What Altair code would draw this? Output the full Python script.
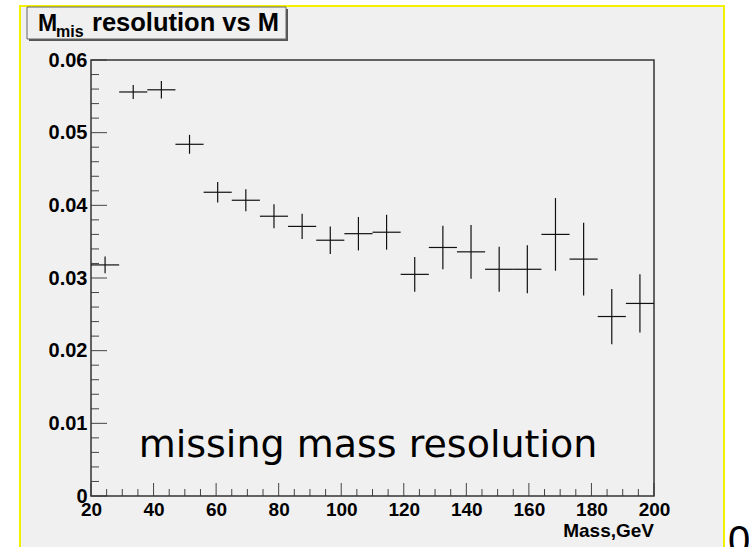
import altair as alt
import pandas as pd

# ---- data ----
bin_edges = [20, 29, 38, 47, 56, 65, 74, 83, 92, 101, 110,
             119, 128, 137, 146, 155, 164, 173, 182, 191, 200]
bin_centers = [24.5, 33.5, 42.5, 51.5, 60.5, 69.5, 78.5, 87.5, 96.5, 105.5,
               114.5, 123.5, 132.5, 141.5, 150.5, 159.5, 168.5, 177.5, 186.5, 195.5]
resolution = [0.0318, 0.0556, 0.0559, 0.0484, 0.0418, 0.0407, 0.0385, 0.0371, 0.0352, 0.0361,
              0.0363, 0.0305, 0.0342, 0.0336, 0.0312, 0.0312, 0.0360, 0.0326, 0.0247, 0.0265]
errors = [0.00115, 0.00096, 0.0012, 0.0013, 0.0014, 0.0015, 0.00165, 0.00175, 0.0019, 0.0023,
          0.0024, 0.0024, 0.0030, 0.0037, 0.0031, 0.0033, 0.0050, 0.0050, 0.0038, 0.0040]

x_major = [20, 40, 60, 80, 100, 120, 140, 160, 180, 200]
x_minor = [v for v in range(20, 201, 5) if v % 20 != 0]
y_major = [0, 0.01, 0.02, 0.03, 0.04, 0.05, 0.06]
y_minor = [round(i * 0.002, 3) for i in range(31) if i % 5 != 0]

title_main = "resolution vs M"
title_M = "M"
title_sub = "mis"
x_title = "Mass,GeV"
annotation = "missing mass resolution"
corner_text = "0"

W, H = 563, 436

df = pd.DataFrame({
    "lo": bin_edges[:-1],
    "hi": bin_edges[1:],
    "c": bin_centers,
    "v": resolution,
    "e": errors,
})
df["v_lo"] = df["v"] - df["e"]
df["v_hi"] = df["v"] + df["e"]

one = pd.DataFrame({"k": [0]})

xs = alt.Scale(domain=[20, 200], nice=False, zero=False)
ys = alt.Scale(domain=[0, 0.06], nice=False, zero=False)

FONT = "Liberation Sans"

xaxis = alt.Axis(values=x_major, format="d", ticks=False, domain=False, grid=False,
                 labelFont=FONT, labelFontWeight="bold", labelFontSize=19,
                 labelColor="black", labelPadding=4, labelFlush=False,
                 labelOverlap=False, title=None, zindex=2)
yaxis = alt.Axis(values=y_major,
                 labelExpr="datum.value == 0 ? '0' : format(datum.value, '.2f')",
                 ticks=False, domain=False, grid=False,
                 labelFont=FONT, labelFontWeight="bold", labelFontSize=20,
                 labelColor="black", labelPadding=4, labelFlush=False,
                 labelOverlap=False, title=None, zindex=2)

# frame of the canvas (yellow border)
frame = alt.Chart(one).mark_rect(fill="#f0f0f0", stroke="#f2f200", strokeWidth=2).encode(
    x=alt.value(-71), x2=alt.value(633), y=alt.value(-54), y2=alt.value(520))

# title box with shadow
title_shadow = alt.Chart(one).mark_rect(fill="#555555").encode(
    x=alt.value(-62), x2=alt.value(197), y=alt.value(-51), y2=alt.value(-19))
title_box = alt.Chart(one).mark_rect(fill="#f0f0f0", stroke="#666666", strokeWidth=1).encode(
    x=alt.value(-64), x2=alt.value(195), y=alt.value(-53), y2=alt.value(-21))
t_M = alt.Chart(one).mark_text(font=FONT, fontWeight="bold", fontSize=23, align="left",
                               baseline="alphabetic", color="black").encode(
    x=alt.value(-53), y=alt.value(-29), text=alt.value(title_M))
t_sub = alt.Chart(one).mark_text(font=FONT, fontWeight="bold", fontSize=16, align="left",
                                 baseline="alphabetic", color="black").encode(
    x=alt.value(-35), y=alt.value(-23), text=alt.value(title_sub))
t_main = alt.Chart(one).mark_text(font=FONT, fontWeight="bold", fontSize=25.5, align="left",
                                  baseline="alphabetic", color="black").encode(
    x=alt.value(1), y=alt.value(-29), text=alt.value(title_main))

# data: horizontal (bin width) and vertical (error) bars
hbar = alt.Chart(df).mark_rule(color="#111111", strokeWidth=1.2).encode(
    x=alt.X("lo:Q", scale=xs, axis=xaxis), x2="hi:Q",
    y=alt.Y("v:Q", scale=ys, axis=yaxis))
vbar = alt.Chart(df).mark_rule(color="#111111", strokeWidth=1.2).encode(
    x=alt.X("c:Q", scale=xs, axis=xaxis),
    y=alt.Y("v_lo:Q", scale=ys, axis=yaxis), y2="v_hi:Q")

# inward ticks
ymaj = alt.Chart(pd.DataFrame({"t": y_major})).mark_rule(color="#444444", strokeWidth=1).encode(
    y=alt.Y("t:Q", scale=ys, axis=yaxis), x=alt.value(0), x2=alt.value(16))
ymin = alt.Chart(pd.DataFrame({"t": y_minor})).mark_rule(color="#444444", strokeWidth=1).encode(
    y=alt.Y("t:Q", scale=ys, axis=yaxis), x=alt.value(0), x2=alt.value(8))
xmaj = alt.Chart(pd.DataFrame({"t": x_major})).mark_rule(color="#444444", strokeWidth=1).encode(
    x=alt.X("t:Q", scale=xs, axis=xaxis), y=alt.value(H), y2=alt.value(H - 13))
xmin = alt.Chart(pd.DataFrame({"t": x_minor})).mark_rule(color="#444444", strokeWidth=1).encode(
    x=alt.X("t:Q", scale=xs, axis=xaxis), y=alt.value(H), y2=alt.value(H - 7))

box = alt.Chart(one).mark_rect(fill="transparent", stroke="#333333", strokeWidth=1.5).encode(
    x=alt.value(0), x2=alt.value(W), y=alt.value(0), y2=alt.value(H))

xlab = alt.Chart(one).mark_text(font=FONT, fontWeight="bold", fontSize=19, align="right",
                                baseline="alphabetic", color="black").encode(
    x=alt.value(W), y=alt.value(477), text=alt.value(x_title))

note = alt.Chart(one).mark_text(font="DejaVu Sans", fontSize=38, align="center",
                                baseline="alphabetic", color="black").encode(
    x=alt.value(277), y=alt.value(397), text=alt.value(annotation))

corner = alt.Chart(one).mark_text(font=FONT, fontSize=40, align="left",
                                  baseline="alphabetic", color="black").encode(
    x=alt.value(637), y=alt.value(494), text=alt.value(corner_text))

chart = alt.layer(
    frame, title_shadow, title_box, t_M, t_sub, t_main,
    ymin, ymaj, xmin, xmaj, box, hbar, vbar, xlab, note, corner
).properties(
    width=W, height=H,
    autosize=alt.AutoSizeParams(type="none"),
    padding={"left": 91, "top": 60, "right": 95, "bottom": 51},
    background="white",
).configure_view(strokeWidth=0)

chart.save("out.html", embed_options={"renderer": "svg", "actions": False})
